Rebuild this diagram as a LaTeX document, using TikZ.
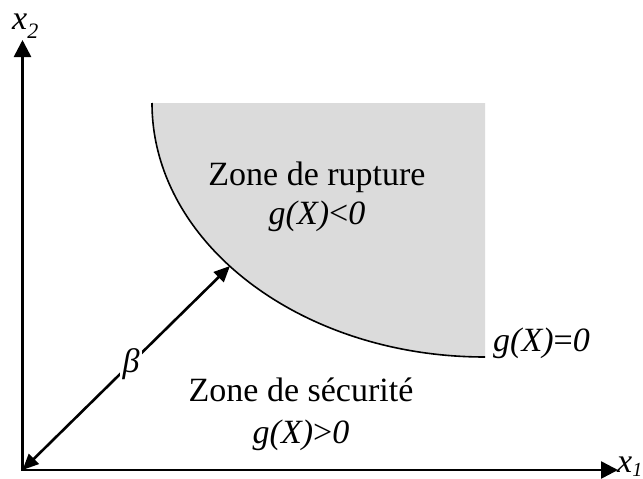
\documentclass[tikz,border=0pt]{standalone}
\usepackage{fontspec}
\setmainfont{Liberation Serif}
\usetikzlibrary{arrows.meta}
\begin{document}
\begin{tikzpicture}[x=1pt,y=-1pt,
  axis/.style={line width=2.6pt,-{Triangle[length=17pt,width=17pt]}},
  betaarrow/.style={line width=2.6pt,{Triangle[length=16pt,width=14pt]}-{Triangle[length=16pt,width=14pt]}},
  lbl/.style={font=\fontsize{34}{39}\selectfont,inner sep=0pt,align=center},
  ilbl/.style={font=\fontsize{34}{39}\selectfont\itshape,inner sep=0pt}]
\useasboundingbox (0,0) rectangle (643,479);
\coordinate (O) at (22.5,470);
\coordinate (Ytip) at (22.5,40);
\coordinate (Xtip) at (618,470);
\coordinate (S) at (152,103);
\coordinate (E) at (485,357);
\coordinate (C) at (485,103);
\coordinate (P) at (230,266);
% gray failure zone
\fill[gray!28] (S) arc[start angle=180,end angle=270,x radius=333pt,y radius=254pt] -- (C) -- cycle;
\draw[line width=1.6pt] (S) arc[start angle=180,end angle=270,x radius=333pt,y radius=254pt];
% axes
\draw[axis] (O) -- (Ytip);
\draw[axis] ([xshift=-1.3pt]O) -- (Xtip);
% beta
\draw[betaarrow] (O) -- (P);
% labels
\node[ilbl,anchor=base west] (x2) at (12,30) {x\raisebox{-0.25em}{\fontsize{22}{22}\selectfont 2}};
\node[ilbl,anchor=base west] (x1) at (617,472) {x\raisebox{-0.12em}{\fontsize{20}{20}\selectfont 1}};
\node[ilbl,fill=white,inner sep=3pt] (beta) at (131,364) {β};
\node[lbl,anchor=base] (zr) at (317,185) {Zone de rupture};
\node[ilbl,anchor=base] (gneg) at (317,224) {g(X)\textup{<}0};
\node[lbl,anchor=base] (zs) at (301,401) {Zone de sécurité};
\node[ilbl,anchor=base] (gpos) at (301,443) {g(X)\textup{>}0};
\node[ilbl,anchor=base west] (gzero) at (493,351) {g(X)\textup{=}0};
\end{tikzpicture}
\end{document}
